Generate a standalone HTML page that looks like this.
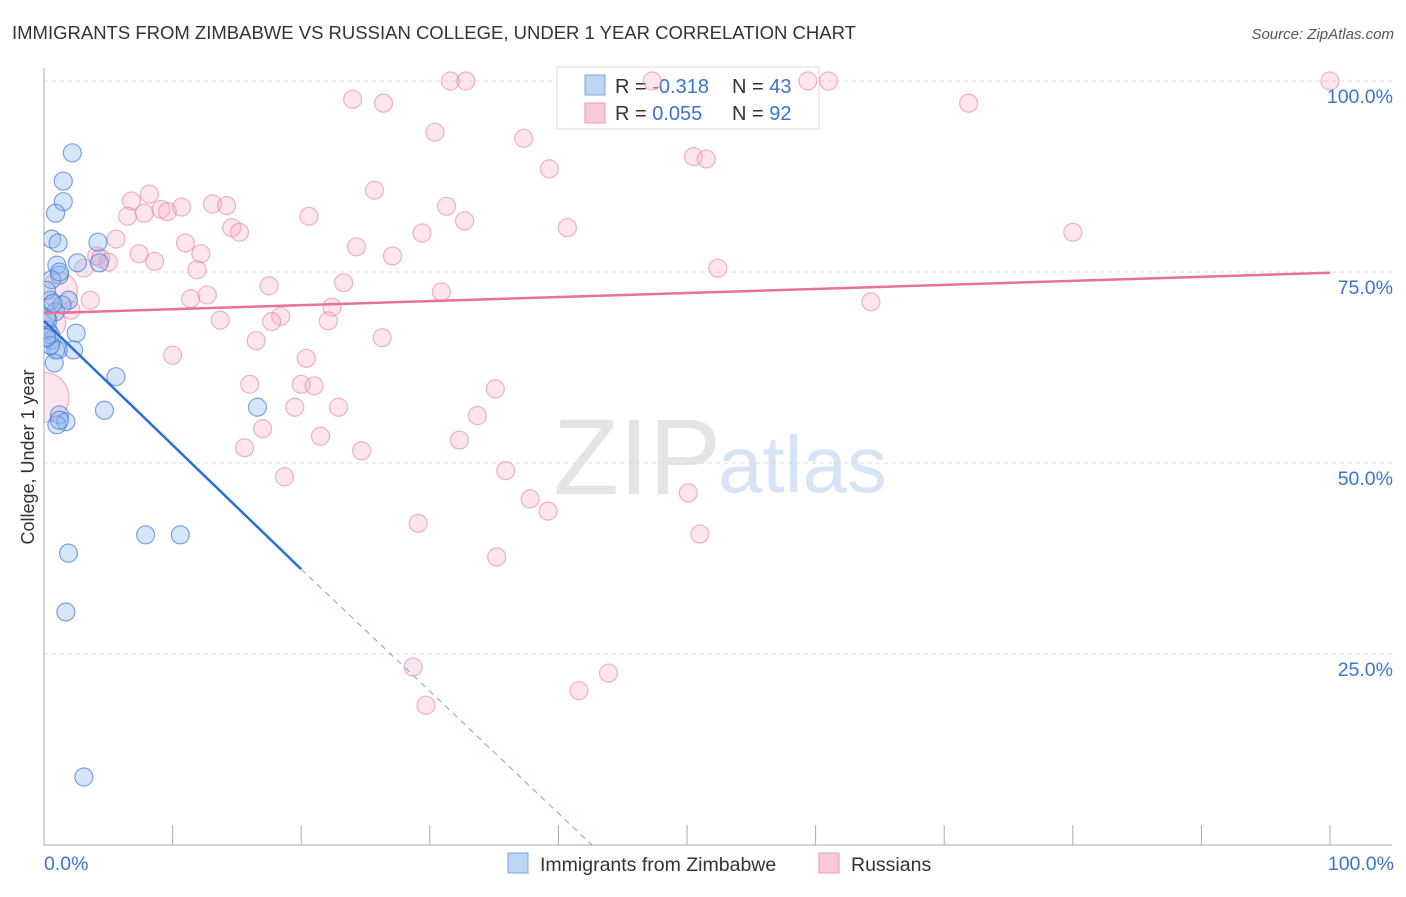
<!DOCTYPE html>
<html><head><meta charset="utf-8"><style>
body{margin:0;background:#fff;font-family:"Liberation Sans",sans-serif}
svg text{font-family:"Liberation Sans",sans-serif}
</style></head><body>
<svg id="c" width="1406" height="892">
<defs><clipPath id="plot"><rect x="44" y="60" width="1360" height="786"/></clipPath></defs>
<text x="12" y="39" font-size="18.5" fill="#333">IMMIGRANTS FROM ZIMBABWE VS RUSSIAN COLLEGE, UNDER 1 YEAR CORRELATION CHART</text>
<text x="1394" y="39" font-size="15" fill="#555" font-style="italic" text-anchor="end">Source: ZipAtlas.com</text>
<text x="553" y="494" font-size="108" fill="#e4e4e4" font-family="Liberation Serif">ZIP</text>
<text x="718" y="492" font-size="80" fill="#d6e4f5">atlas</text>
<g id="grid"></g><g id="axes"></g>
<g>
<rect x="557" y="67" width="262" height="62" fill="#fff" stroke="#ddd"/>
<rect x="585" y="75" width="20" height="20" fill="#bcd5f5" stroke="#7aa5e0"/>
<rect x="585" y="103" width="20" height="20" fill="#f9c9d7" stroke="#ee9ab3"/>
<text x="615" y="93" font-size="20" fill="#333">R = <tspan fill="#3b74d0">-0.318</tspan></text>
<text x="732" y="93" font-size="20" fill="#333">N = <tspan fill="#3b74d0">43</tspan></text>
<text x="615" y="120" font-size="20" fill="#333">R = <tspan fill="#3b74d0"> 0.055</tspan></text>
<text x="732" y="120" font-size="20" fill="#333">N = <tspan fill="#3b74d0">92</tspan></text>
</g>
<g id="pts" clip-path="url(#plot)"></g><g id="lines"></g>
<text transform="translate(34,457) rotate(-90)" font-size="18" fill="#333" text-anchor="middle">College, Under 1 year</text>
<text x="44" y="870" font-size="19.5" fill="#3b74d0">0.0%</text>
<text x="1394" y="870" font-size="19.5" fill="#3b74d0" text-anchor="end">100.0%</text>
<g>
<rect x="508" y="853" width="20" height="20" fill="#bcd5f5" stroke="#7aa5e0"/>
<text x="540" y="871" font-size="19.5" fill="#333">Immigrants from Zimbabwe</text>
<rect x="819" y="853" width="20" height="20" fill="#f9c9d7" stroke="#ee9ab3"/>
<text x="851" y="871" font-size="19.5" fill="#333">Russians</text>
</g>
</svg>
<script>
const yTicks=[100,75,50,25];
const yTickLabels=["100.0%","75.0%","50.0%","25.0%"];
const blueX=[2.2,1.5,1.5,0.9,0.6,1.1,4.2,1.0,1.2,0.6,2.6,4.3,0.5,1.9,0.9,0.3,2.5,0.6,0.9,2.3,1.1,0.8,5.6,4.7,1.2,1.7,1.0,16.6,7.9,10.6,1.9,1.7,3.1,0.3,0.5,1.4,1.2,0.2,0.5,1.2,0.2,0.7,0.2];
const blueY=[90.6,86.9,84.2,82.7,79.3,78.8,78.9,75.9,74.6,74.0,76.2,76.2,71.3,71.3,69.8,67.4,67.0,66.1,64.8,64.8,64.8,63.1,61.3,56.9,56.3,55.4,55.0,57.3,40.6,40.6,38.2,30.5,8.9,68.7,66.8,70.7,75.0,72.6,65.4,55.6,69.0,70.9,66.4];
const pinkX=[31.6,32.8,47.3,59.4,61.0,100,24.0,26.4,71.9,30.4,37.3,50.5,51.5,39.3,25.7,8.2,6.8,9.1,9.6,10.7,13.1,14.2,6.5,7.8,20.6,31.3,32.7,14.6,15.2,40.7,29.4,80.0,5.6,11.0,24.3,27.1,7.4,8.6,12.2,5.0,4.1,3.1,11.9,52.4,17.5,23.3,30.9,11.4,12.7,1.2,2.1,64.3,18.4,22.4,13.7,17.7,22.1,16.5,26.3,10.0,20.4,16.0,20.0,21.0,35.1,19.5,22.9,33.7,17.0,21.5,32.3,15.6,24.7,18.7,35.9,37.8,50.1,39.2,29.1,51.0,35.2,28.7,43.9,41.6,29.7,0,0.6,3.6,4.4];
const pinkY=[100,100,100,100,100,100,97.6,97.1,97.1,93.3,92.5,90.1,89.8,88.5,85.7,85.2,84.3,83.2,82.9,83.5,83.9,83.7,82.3,82.7,82.3,83.6,81.7,80.8,80.2,80.8,80.1,80.2,79.3,78.8,78.3,77.1,77.4,76.4,77.4,76.3,77.1,75.5,75.3,75.5,73.2,73.6,72.4,71.5,72.0,72.6,70.0,71.1,69.2,70.4,68.7,68.5,68.6,66.0,66.4,64.1,63.7,60.3,60.3,60.1,59.7,57.3,57.3,56.2,54.5,53.5,53.0,52.0,51.6,48.2,49.0,45.3,46.1,43.7,42.1,40.7,37.7,23.3,22.5,20.2,18.3,58.6,68.3,71.3,76.8];
const pinkR=[];pinkX.forEach(()=>pinkR.push(9));pinkR[49]=18;pinkR[85]=25;pinkR[86]=14;
const blueTrend=[[0,68.6],[20,36.1],[42.6,0]];
const pinkTrend=[[0,69.6],[100,74.9]];
const sx=v=>44+v*12.86, sy=v=>845-v*7.64;
const NS="http://www.w3.org/2000/svg";
function mk(t,a,p){const e=document.createElementNS(NS,t);for(const k in a)e.setAttribute(k,a[k]);p.appendChild(e);return e;}
const grid=document.getElementById('grid'),axes=document.getElementById('axes'),pts=document.getElementById('pts'),lines=document.getElementById('lines');
yTicks.forEach((t,i)=>{const g=mk('line',{x1:44,x2:1392,y1:sy(t),y2:sy(t),stroke:'#ddd','stroke-dasharray':'4,4'},grid);


const tx=mk('text',{x:1393,y:sy(t)+22,'font-size':19.5,fill:'#3b74d0','text-anchor':'end'},grid);tx.textContent=yTickLabels[i];

});
const ya=mk('line',{x1:44,x2:44,y1:68,y2:845,stroke:'#aaa'},axes);


const xa=mk('line',{x1:44,x2:1392,y1:845,y2:845,stroke:'#aaa'},axes);


for(let v=0;v<=100;v+=10){const t=mk('line',{x1:sx(v),x2:sx(v),y1:825,y2:845,stroke:'#aaa'},axes);

}
pinkX.forEach((x,i)=>{const c=mk('circle',{cx:sx(x),cy:sy(pinkY[i]),r:pinkR[i],fill:'rgba(245,170,195,0.3)',stroke:'rgba(230,120,155,0.55)','stroke-width':1.2},pts);

});
blueX.forEach((x,i)=>{const c=mk('circle',{cx:sx(x),cy:sy(blueY[i]),r:9,fill:'rgba(140,180,235,0.35)',stroke:'rgba(60,120,210,0.65)','stroke-width':1.2},pts);

});
const pl=mk('line',{x1:sx(pinkTrend[0][0]),y1:sy(pinkTrend[0][1]),x2:sx(pinkTrend[1][0]),y2:sy(pinkTrend[1][1]),stroke:'#e8709a','stroke-width':2.5},lines);


const bl=mk('line',{x1:sx(blueTrend[0][0]),y1:sy(blueTrend[0][1]),x2:sx(blueTrend[1][0]),y2:sy(blueTrend[1][1]),stroke:'#2a6fd6','stroke-width':2.5},lines);


const bd=mk('line',{x1:sx(blueTrend[1][0]),y1:sy(blueTrend[1][1]),x2:sx(blueTrend[2][0]),y2:sy(blueTrend[2][1]),stroke:'#7aa5e0','stroke-width':1,'stroke-dasharray':'6,5'},lines);


</script>
</body></html>
